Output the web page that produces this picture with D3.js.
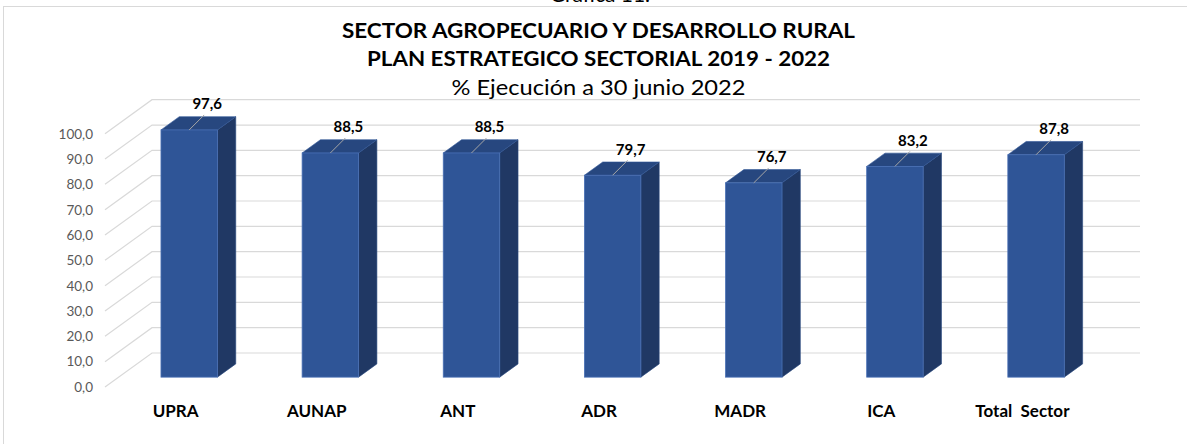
<!DOCTYPE html>
<html><head><meta charset="utf-8">
<script src="https://cdn.jsdelivr.net/npm/d3@7"></script>
<style>html,body{margin:0;padding:0;background:#fff;overflow:hidden}</style>
</head><body><svg id="c" width="1187" height="444"></svg>
<script>
// ---- data ----
const categories = ["UPRA", "AUNAP", "ANT", "ADR", "MADR", "ICA", "Total  Sector"];
const values = [97.6, 88.5, 88.5, 79.7, 76.7, 83.2, 87.8];
const yTicks = [0, 10, 20, 30, 40, 50, 60, 70, 80, 90, 100];
const titleLines = ["SECTOR AGROPECUARIO Y DESARROLLO RURAL", "PLAN ESTRATEGICO SECTORIAL 2019 - 2022", "% Ejecución a 30 junio 2022"];
const caption = "Gráfica 11.";

// ---- layout ----
const svg = d3.select("#c");
const FONT = "Lato, 'Open Sans', sans-serif";
const floor = {left: 105, right: 1093, front: 387};
const depth = {dx: 47, dy: -34};
const f0 = 0.29, f1 = 0.68;

const y = d3.scaleLinear().domain([0, 100]).range([floor.front, floor.front - 253.3]);
const x = d3.scaleBand().domain(categories).range([floor.left, floor.right]).padding(0);
const barW = x.step() * 0.4;
const locale = d3.formatLocale({decimal: ",", thousands: ".", grouping: [3], currency: ["$", ""]});
const fmt = locale.format(".1f");

// border
svg.append("rect").attr("x", 3.5).attr("y", 6.5).attr("width", 1300).attr("height", 500)
  .attr("fill", "none").attr("stroke", "#d9d9d9").attr("stroke-width", 1);

// caption (cut off at top)
svg.append("text").attr("x", 600).attr("y", 2).attr("text-anchor", "middle")
  .style("font-family", FONT).style("font-size", "21px").attr("fill", "#000").text(caption);

// titles
const tSpec = [
  {y: 37.5, size: 20.5, w: "bold", len: 513},
  {y: 65.5, size: 20.5, w: "bold", len: 463},
  {y: 95, size: 21, w: "normal", len: 294}
];
titleLines.forEach((t, i) => {
  svg.append("text").attr("x", 598.5).attr("y", tSpec[i].y).attr("text-anchor", "middle")
    .style("font-family", FONT).style("font-size", tSpec[i].size + "px").style("font-weight", tSpec[i].w)
    .attr("textLength", tSpec[i].len).attr("lengthAdjust", "spacingAndGlyphs")
    .attr("fill", "#000").text(t);
});

// gridlines (side wall + back wall)
const backRight = floor.right + depth.dx;
svg.append("g").selectAll("path").data(yTicks).join("path")
  .attr("d", t => `M${floor.left},${y(t)} L${floor.left + depth.dx},${y(t) + depth.dy} L${backRight},${y(t) + depth.dy}`)
  .attr("fill", "none").attr("stroke", "#d9d9d9").attr("stroke-width", 1.2);

// y axis
const ax = svg.append("g").attr("transform", `translate(${floor.left},0)`)
  .call(d3.axisLeft(y).tickValues(yTicks).tickSize(0).tickPadding(12).tickFormat(fmt));
ax.select(".domain").remove();
ax.selectAll("text").style("font-family", FONT).style("font-size", "13.5px").attr("fill", "#595959");

// bars
const data = categories.map((c, i) => ({c, v: values[i]}));
const g = svg.append("g");
const sdx = depth.dx * (f1 - f0), sdy = depth.dy * (f1 - f0);
data.forEach(d => {
  const cx = x(d.c) + x.bandwidth() / 2 + depth.dx * f0;
  const top = y(d.v) + depth.dy * f0, bot = y(0) + depth.dy * f0;
  const l = cx - barW / 2, r = cx + barW / 2;
  d.cx = cx; d.top = top;
  g.append("path").attr("d", `M${r},${top} L${r + sdx},${top + sdy} L${r + sdx},${bot + sdy} L${r},${bot} Z`)
    .attr("fill", "#203864").attr("stroke", "#2a4a80").attr("stroke-width", 0.6);
  g.append("path").attr("d", `M${l},${top} L${r},${top} L${r + sdx},${top + sdy} L${l + sdx},${top + sdy} Z`)
    .attr("fill", "#27477f").attr("stroke", "#2f5597").attr("stroke-width", 0.6);
  g.append("rect").attr("x", l).attr("y", top).attr("width", barW).attr("height", bot - top)
    .attr("fill", "#2f5597").attr("stroke", "#4a70b5").attr("stroke-width", 0.8);
});

// value labels with leader lines
data.forEach(d => {
  const lx = d.cx + 18, ly = d.top - 26;
  svg.append("line").attr("x1", d.cx).attr("y1", d.top).attr("x2", lx - 3).attr("y2", ly + 11)
    .attr("stroke", "#a6a6a6").attr("stroke-width", 1);
  svg.append("text").attr("x", lx).attr("y", ly + 5.3).attr("text-anchor", "middle")
    .style("font-family", FONT).style("font-size", "15px").style("font-weight", "bold")
    .attr("fill", "#000").text(fmt(d.v));
});

// category labels
svg.append("g").selectAll("text").data(categories).join("text")
  .attr("x", c => x(c) + x.bandwidth() / 2).attr("y", 417.2).attr("text-anchor", "middle")
  .style("font-family", FONT).style("font-size", "17px").style("font-weight", "bold")
  .style("white-space", "pre").attr("fill", "#000").text(c => c);
</script></body></html>
